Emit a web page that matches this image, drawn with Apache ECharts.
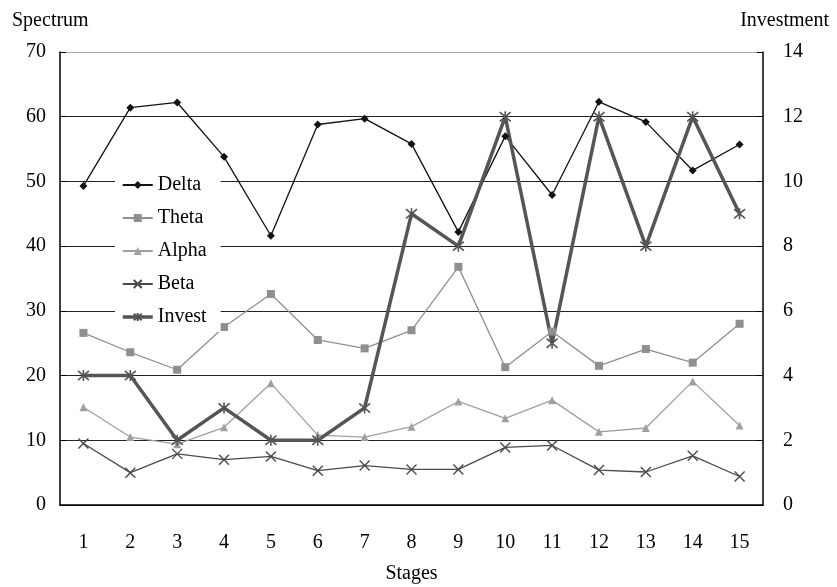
<!DOCTYPE html>
<html>
<head>
<meta charset="utf-8">
<script src="https://cdn.jsdelivr.net/npm/echarts@6/dist/echarts.min.js"></script>
<style>
  html, body { margin: 0; padding: 0; background: #fff; }
  #chart { width: 837px; height: 587px; }
</style>
</head>
<body>
<div id="chart"></div>
<script>
// Stages on the x axis
const stages = ['1','2','3','4','5','6','7','8','9','10','11','12','13','14','15'];

// Spectrum bands (left axis)
const delta = [49.3, 61.4, 62.2, 53.8, 41.6, 58.8, 59.7, 55.8, 42.2, 57.0, 47.9, 62.3, 59.2, 51.7, 55.7];
const theta = [26.6, 23.6, 20.9, 27.5, 32.6, 25.5, 24.2, 27.0, 36.8, 21.3, 26.8, 21.5, 24.1, 22.0, 28.0];
const alpha = [15.1, 10.5, 9.4, 12.0, 18.8, 10.8, 10.5, 12.1, 16.0, 13.4, 16.2, 11.3, 11.9, 19.1, 12.3];
const beta  = [9.5, 5.0, 7.9, 7.0, 7.5, 5.3, 6.1, 5.5, 5.5, 8.9, 9.2, 5.4, 5.1, 7.6, 4.4];

// Investment (right axis)
const invest = [4, 4, 2, 3, 2, 2, 3, 9, 8, 12, 5, 12, 8, 12, 9];

// Axis ticks
const spectrumTicks = { min: 0, max: 70, interval: 10 };
const investTicks = { min: 0, max: 14, interval: 2 };

const serif = '"Liberation Serif", "DejaVu Serif", serif';
const crossPath = 'path://M0,0 L10,10 M10,0 L0,10';
const starPath = 'path://M0,0 L10,10 M10,0 L0,10 M5,-1 L5,11';

const chart = echarts.init(document.getElementById('chart'), null, { renderer: 'canvas' });

chart.setOption({
  animation: false,
  backgroundColor: '#fff',
  textStyle: { fontFamily: serif, color: '#000' },
  title: [
    { text: 'Spectrum', left: 7, top: 6,
      textStyle: { fontFamily: serif, fontSize: 20, fontWeight: 'normal', color: '#000' } },
    { text: 'Investment', right: 3, top: 6,
      textStyle: { fontFamily: serif, fontSize: 20, fontWeight: 'normal', color: '#000' } }
  ],
  grid: { left: 60, right: 74, top: 52, bottom: 82, containLabel: false, outerBoundsMode: 'none' },
  legend: {
    orient: 'vertical',
    left: 115,
    top: 170,
    padding: [5, 14, 5, 6],
    itemGap: 13,
    itemWidth: 30,
    itemHeight: 10,
    backgroundColor: '#fff',
    textStyle: { fontFamily: serif, fontSize: 20, color: '#000' },
    data: [
      { name: 'Delta' },
      { name: 'Theta' },
      { name: 'Alpha' },
      { name: 'Beta' },
      { name: 'Invest', lineStyle: { width: 3.5 } }
    ]
  },
  xAxis: {
    type: 'category',
    data: stages,
    boundaryGap: true,
    name: 'Stages',
    nameLocation: 'middle',
    nameGap: 59,
    nameTextStyle: { fontFamily: serif, fontSize: 20, color: '#000' },
    axisLine: { lineStyle: { color: '#000', width: 1.5 } },
    axisTick: { inside: true, length: 6, lineStyle: { color: '#000' } },
    axisLabel: { margin: 28, fontFamily: serif, fontSize: 20, color: '#000' },
    splitLine: { show: false }
  },
  yAxis: [
    {
      type: 'value',
      min: spectrumTicks.min, max: spectrumTicks.max, interval: spectrumTicks.interval,
      axisLine: { show: true, lineStyle: { color: '#000', width: 1.5 } },
      axisTick: { show: true, inside: true, length: 6, lineStyle: { color: '#000' } },
      axisLabel: { margin: 14, fontFamily: serif, fontSize: 20, color: '#000' },
      splitLine: {
        show: true,
        lineStyle: {
          color: ['#222', '#222', '#222', '#222', '#222', '#222', '#222', '#aaa'],
          width: 1.2
        }
      }
    },
    {
      type: 'value',
      min: investTicks.min, max: investTicks.max, interval: investTicks.interval,
      position: 'right',
      axisLine: { show: true, lineStyle: { color: '#000', width: 1.5 } },
      axisTick: { show: true, inside: true, length: 6, lineStyle: { color: '#000' } },
      axisLabel: { margin: 20, fontFamily: serif, fontSize: 20, color: '#000' },
      splitLine: { show: false }
    }
  ],
  series: [
    {
      name: 'Delta', type: 'line', data: delta, yAxisIndex: 0,
      symbol: 'diamond', symbolSize: 8,
      color: '#111',
      lineStyle: { color: '#111', width: 1.3 },
      itemStyle: { color: '#111' }
    },
    {
      name: 'Theta', type: 'line', data: theta, yAxisIndex: 0,
      symbol: 'rect', symbolSize: 8,
      color: '#8f8f8f',
      lineStyle: { color: '#8f8f8f', width: 1.3 },
      itemStyle: { color: '#8f8f8f' }
    },
    {
      name: 'Alpha', type: 'line', data: alpha, yAxisIndex: 0,
      symbol: 'triangle', symbolSize: 8,
      color: '#a0a0a0',
      lineStyle: { color: '#a0a0a0', width: 1.3 },
      itemStyle: { color: '#a0a0a0' }
    },
    {
      name: 'Beta', type: 'line', data: beta, yAxisIndex: 0,
      symbol: crossPath, symbolSize: 10,
      color: '#4a4a4a',
      lineStyle: { color: '#4a4a4a', width: 1.3 },
      itemStyle: { color: '#4a4a4a', borderColor: '#4a4a4a', borderWidth: 1.4 }
    },
    {
      name: 'Invest', type: 'line', data: invest, yAxisIndex: 1,
      symbol: starPath, symbolSize: 11,
      color: '#555',
      lineStyle: { color: '#555', width: 3.5 },
      itemStyle: { color: '#555', borderColor: '#555', borderWidth: 1.6 }
    }
  ]
});
</script>
</body>
</html>
